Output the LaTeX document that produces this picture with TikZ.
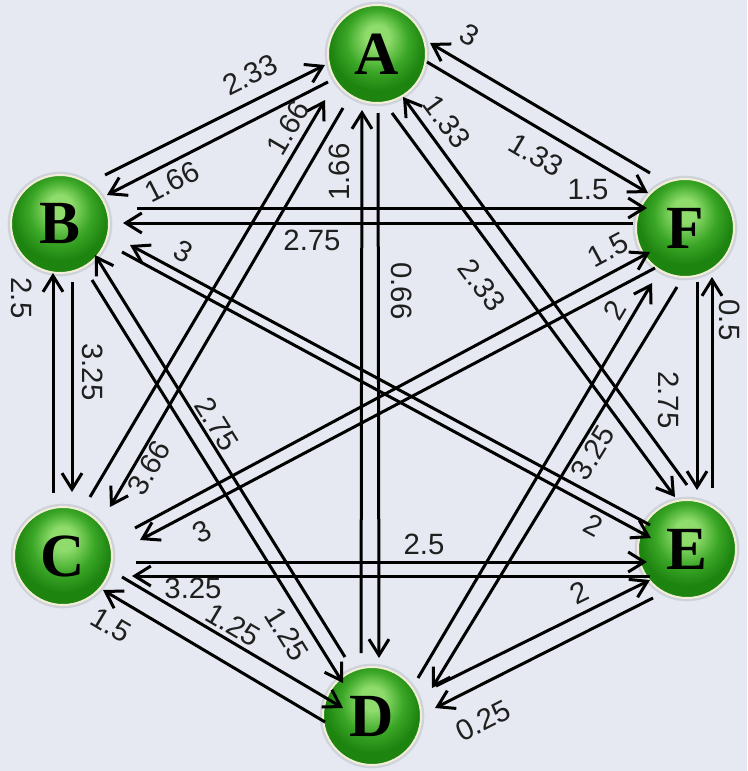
\documentclass[tikz,border=0pt]{standalone}
\usepackage{fontspec}
\newfontfamily\lblfont{Liberation Sans}
\newfontfamily\nodefont{Liberation Serif}
\usetikzlibrary{arrows.meta,calc}
\definecolor{bgc}{HTML}{E6E9F1}
\definecolor{gl}{HTML}{8FDC6C}
\definecolor{gm}{HTML}{3AA626}
\definecolor{gd}{HTML}{1E8410}
\definecolor{rimc}{HTML}{F2EFD6}
\definecolor{haloc}{HTML}{CED3DB}
\pgfdeclareradialshading{gball}{\pgfpoint{0bp}{10bp}}{color(0bp)=(gl); color(6bp)=(gl); color(16bp)=(gm); color(24bp)=(gd); color(25bp)=(gd); color(50bp)=(gd)}
\tikzset{
  ball/.style={circle, minimum size=73.5pt, inner sep=0pt, shade, shading=gball,
    draw=rimc, line width=1.5pt, preaction={draw=haloc, line width=5pt},
    font=\nodefont\bfseries\fontsize{46}{46}\selectfont, text=black},
  conn/.style={draw=black, line width=2.25pt, -{Straight Barb[length=12pt,width=15pt]}},
  lbl/.style={font=\lblfont\fontsize{22}{24}\selectfont, inner sep=0pt, text=black!88}
}
\begin{document}
\begin{tikzpicture}[x=0.75pt,y=-0.75pt]
\useasboundingbox (0,0) rectangle (747,771);
\fill[bgc] (0,0) rectangle (747,771);
% nodes
\node[ball] (A) at (377,54) {A};
\node[ball] (B) at (60,224) {B};
\node[ball] (C) at (63,556) {C};
\node[ball] (D) at (372,716) {D};
\node[ball] (E) at (687,549) {E};
\node[ball] (F) at (685,228) {F};
% connectors
\draw[conn] ($(B)+(45,-49)$) -- ($(A)+(-52,11)$);
\draw[conn] ($(A)+(-49,28)$) -- ($(B)+(47,-29)$);
\draw[conn] ($(F)+(-35,-55)$) -- ($(A)+(53,-11)$);
\draw[conn] ($(A)+(50,8)$) -- ($(F)+(-37,-35)$);
\draw[conn] ($(C)+(27,-59)$) -- ($(A)+(-52,46)$);
\draw[conn] ($(A)+(-34,54)$) -- ($(C)+(47,-49)$);
\draw[conn] ($(D)+(-11,-63)$) -- ($(A)+(-15,56)$);
\draw[conn] ($(A)+(1,59)$) -- ($(D)+(7,-58)$);
\draw[conn] ($(E)+(0,-64)$) -- ($(A)+(26,43)$);
\draw[conn] ($(A)+(15,59)$) -- ($(E)+(-12,-52)$);
\draw[conn] ($(B)+(77,-16)$) -- ($(F)+(-38,-20)$);
\draw[conn] ($(F)+(-52,-5)$) -- ($(B)+(63,-1)$);
\draw[conn] ($(C)+(-10,-63)$) -- ($(B)+(-7,49)$);
\draw[conn] ($(B)+(12,58)$) -- ($(C)+(9,-64)$);
\draw[conn] ($(E)+(-37,-24)$) -- ($(B)+(70,21)$);
\draw[conn] ($(B)+(62,28)$) -- ($(E)+(-36,-11)$);
\draw[conn] ($(D)+(-27,-59)$) -- ($(B)+(35,31)$);
\draw[conn] ($(B)+(32,56)$) -- ($(D)+(-29,-33)$);
\draw[conn] ($(C)+(72,-28)$) -- ($(F)+(-35,24)$);
\draw[conn] ($(F)+(-30,40)$) -- ($(C)+(77,-16)$);
\draw[conn] ($(C)+(73,6)$) -- ($(E)+(-40,13)$);
\draw[conn] ($(E)+(-37,27)$) -- ($(C)+(69,20)$);
\draw[conn] ($(C)+(59,21)$) -- ($(D)+(-29,-8)$);
\draw[conn] ($(D)+(-47,6)$) -- ($(C)+(40,34)$);
\draw[conn] ($(D)+(46,-38)$) -- ($(F)+(-33,55)$);
\draw[conn] ($(F)+(-8,59)$) -- ($(D)+(60,-28)$);
\draw[conn] ($(D)+(64,-30)$) -- ($(E)+(-37,31)$);
\draw[conn] ($(E)+(-34,49)$) -- ($(D)+(63,-8)$);
\draw[conn] ($(F)+(12,54)$) -- ($(E)+(10,-59)$);
\draw[conn] ($(E)+(25,-61)$) -- ($(F)+(27,49)$);
% labels
\node[lbl, rotate=26.6] (l1) at (250,75) {2.33};
\node[lbl, rotate=27] (l2) at (172,182) {1.66};
\node[lbl, rotate=-30.6] (l3) at (470,35) {3};
\node[lbl, rotate=-30.7] (l4) at (536,155) {1.33};
\node[lbl, rotate=59.4] (l5) at (288,128) {1.66};
\node[lbl, rotate=59.7] (l6) at (149,468) {3.66};
\node[lbl, rotate=90] (l7) at (339,172) {1.66};
\node[lbl, rotate=-90] (l8) at (402,291) {0.66};
\node[lbl, rotate=-53.8] (l9) at (447,122) {1.33};
\node[lbl, rotate=-53.6] (l10) at (482,285) {2.33};
\node[lbl] (l11) at (588,190) {1.5};
\node[lbl] (l12) at (312,240) {2.75};
\node[lbl, rotate=-90] (l13) at (22,298) {2.5};
\node[lbl, rotate=-90] (l14) at (93,372) {3.25};
\node[lbl, rotate=-28.3] (l15) at (183,251) {3};
\node[lbl, rotate=-28.3] (l16) at (594,525) {2};
\node[lbl, rotate=-58.1] (l17) at (217,424) {2.75};
\node[lbl, rotate=-58.1] (l18) at (287,634) {1.25};
\node[lbl, rotate=28.2] (l19) at (608,250) {1.5};
\node[lbl, rotate=27.8] (l20) at (202,532) {3};
\node[lbl] (l21) at (424,544) {2.5};
\node[lbl] (l22) at (193,588) {3.25};
\node[lbl, rotate=-30.7] (l23) at (233,625) {1.25};
\node[lbl, rotate=-30.7] (l24) at (111,625) {1.5};
\node[lbl, rotate=59.4] (l25) at (615,310) {2};
\node[lbl, rotate=58.6] (l26) at (593,453) {3.25};
\node[lbl, rotate=26.1] (l27) at (579,593) {2};
\node[lbl, rotate=26.9] (l28) at (483,721) {0.25};
\node[lbl, rotate=-90] (l29) at (669,400) {2.75};
\node[lbl, rotate=-90] (l30) at (730,320) {0.5};
\end{tikzpicture}
\end{document}
